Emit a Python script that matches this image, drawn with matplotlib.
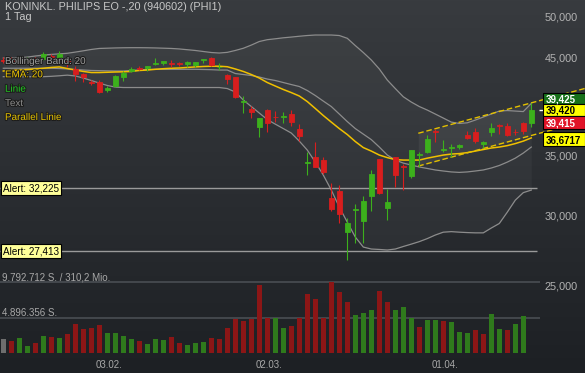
import numpy as np
import matplotlib
matplotlib.use("Agg")
import matplotlib.pyplot as plt
import matplotlib.transforms as mtransforms
import matplotlib.patheffects as pe
from matplotlib.patches import Rectangle

plt.rcParams['font.family'] = ['Liberation Sans', 'DejaVu Sans']

W, H = 585, 373

# Tageskerzen in EUR (15.01. - 20.04.)
eroeffnung = [44.85, 44.85, 44.68, 44.85, 45.03, 44.97, 45.31, 44.80, 44.68, 43.83,
              43.18, 42.39, 42.37, 41.52, 41.89, 42.83, 43.59, 43.89, 43.86, 44.37,
              44.48, 44.48, 44.45, 44.30, 44.18, 44.80, 45.03, 43.97, 43.10, 42.85,
              40.24, 39.47, 37.68, 39.39, 38.74, 38.71, 39.04, 37.52, 34.37, 34.93,
              34.64, 31.45, 32.01, 28.81, 30.50, 29.63, 31.60, 34.70, 30.62, 34.88,
              34.14, 33.27, 35.13, 35.39, 37.32, 35.54, 35.77, 35.80, 36.93, 37.22,
              36.10, 37.20, 37.89, 37.80, 37.27, 38.09, 38.06]
hoch = [45.09, 45.14, 45.14, 45.14, 45.20, 45.77, 45.49, 45.80, 45.03, 44.06,
        43.38, 42.61, 42.55, 41.95, 43.10, 43.50, 43.95, 44.06, 44.17, 44.99,
        44.74, 44.80, 44.53, 44.72, 44.62, 44.97, 45.17, 44.48, 43.21, 42.92,
        40.80, 39.77, 38.64, 39.49, 39.29, 39.22, 39.39, 37.97, 35.39, 36.28,
        34.93, 32.62, 32.48, 29.81, 30.91, 31.58, 33.76, 34.75, 32.15, 34.95,
        34.25, 35.59, 35.39, 36.99, 37.49, 36.44, 36.13, 36.14, 37.32, 37.58,
        36.37, 38.06, 38.04, 38.06, 37.56, 38.22, 40.13]
tief = [44.45, 44.45, 44.57, 44.68, 44.74, 44.85, 44.91, 44.68, 44.04, 42.50,
        42.39, 42.01, 41.20, 41.31, 41.79, 42.48, 43.44, 43.61, 43.59, 44.18,
        44.25, 43.97, 44.10, 44.04, 43.97, 44.48, 44.16, 43.66, 42.17, 40.68,
        39.06, 38.56, 36.77, 37.25, 38.22, 38.06, 37.81, 36.41, 33.37, 34.03,
        33.40, 30.40, 29.43, 26.78, 27.98, 27.96, 30.38, 31.78, 29.68, 32.36,
        32.07, 33.05, 34.05, 35.24, 36.25, 35.33, 34.91, 35.63, 36.56, 36.15,
        35.70, 36.88, 37.03, 36.84, 36.93, 37.03, 37.75]
schluss = [44.74, 44.68, 44.91, 44.97, 44.91, 45.55, 45.09, 45.49, 44.29, 43.27,
           42.83, 42.22, 41.26, 41.74, 42.99, 43.38, 43.83, 43.78, 44.12, 44.44,
           44.68, 44.39, 44.33, 44.56, 44.59, 44.88, 44.21, 44.03, 42.66, 40.70,
           40.36, 39.19, 38.56, 38.14, 38.66, 38.79, 38.19, 36.84, 34.43, 34.07,
           33.57, 30.54, 30.14, 29.43, 30.58, 31.20, 33.40, 31.84, 31.11, 33.33,
           34.07, 35.54, 35.22, 36.53, 37.22, 35.61, 35.85, 35.99, 36.63, 36.37,
           36.31, 37.58, 37.81, 36.93, 37.20, 37.35, 39.42]
# Umsatz in Mio. Stueck (heute noch ohne Balken)
volumen = [1.89, 1.66, 2.02, 0.97, 1.33, 2.34, 2.16, 2.02, 2.62, 3.95,
           3.26, 3.40, 3.82, 2.76, 2.76, 2.34, 1.93, 1.61, 1.20, 1.93,
           1.79, 2.16, 1.38, 1.06, 1.38, 1.47, 2.11, 1.89, 3.40, 4.64,
           4.41, 4.64, 9.47, 4.78, 4.78, 3.40, 3.72, 4.78, 8.18, 7.49,
           4.83, 9.79, 8.50, 7.13, 5.33, 5.52, 6.02, 8.64, 7.13, 5.93,
           6.34, 4.87, 3.59, 4.55, 4.60, 4.46, 4.27, 2.85, 2.71, 3.22,
           2.67, 5.42, 3.26, 3.13, 3.95, 5.10]

# Indikatoren
boll_oben = [45.03, 45.03, 45.06, 45.14, 45.26, 45.37, 45.45, 45.51, 45.58, 45.72,
             45.87, 46.03, 46.15, 46.18, 46.21, 46.23, 46.24, 46.24, 46.23, 46.21,
             46.18, 46.15, 46.09, 46.00, 45.91, 45.79, 45.67, 45.61, 45.69, 45.91,
             46.17, 46.55, 46.98, 47.20, 47.31, 47.43, 47.52, 47.62, 47.71, 47.77,
             47.77, 47.77, 47.71, 47.37, 46.49, 45.67, 44.80, 43.78, 42.55, 41.63,
             40.76, 40.21, 39.75, 39.39, 38.99, 38.59, 38.19, 38.06, 38.12, 38.39,
             38.69, 38.99, 39.29, 39.34, 39.29, 39.24, 40.07]
boll_mitte = [43.86, 43.86, 43.86, 43.86, 43.86, 43.86, 43.86, 43.83, 43.78, 43.72,
              43.66, 43.61, 43.59, 43.57, 43.55, 43.55, 43.61, 43.66, 43.72, 43.74,
              43.74, 43.74, 43.74, 43.74, 43.74, 43.72, 43.70, 43.66, 43.66, 43.27,
              43.16, 43.05, 42.88, 42.66, 42.50, 42.28, 42.06, 41.85, 41.42, 40.89,
              40.31, 39.75, 38.99, 38.24, 37.56, 37.03, 36.51, 35.82, 35.09, 34.64,
              34.37, 34.20, 34.03, 33.90, 33.77, 33.68, 33.60, 33.56, 33.60, 33.68,
              33.77, 33.94, 34.16, 34.46, 34.81, 35.27, 35.82]
boll_unten = [42.92, 42.92, 42.92, 42.92, 42.92, 42.92, 42.96, 43.02, 43.09, 43.00,
              42.77, 42.50, 42.22, 41.96, 41.79, 41.74, 41.74, 41.74, 41.74, 41.74,
              41.74, 41.74, 41.74, 41.74, 41.74, 41.74, 41.74, 41.74, 41.63, 41.26,
              40.42, 39.75, 39.09, 38.44, 37.99, 37.56, 37.13, 36.37, 35.54, 34.46,
              33.33, 32.07, 30.69, 29.53, 28.42, 27.70, 27.56, 27.53, 27.49, 27.56,
              27.74, 27.91, 28.09, 28.31, 28.57, 28.78, 28.82, 28.78, 28.75, 28.73,
              28.73, 29.09, 29.43, 30.30, 31.25, 31.86, 32.07]
ema20 = [43.55, 43.61, 43.66, 43.72, 43.78, 43.86, 43.95, 44.01, 43.83, 43.66,
         43.50, 43.38, 43.38, 43.41, 43.44, 43.46, 43.50, 43.61, 43.66, 43.74,
         43.81, 43.86, 43.89, 43.95, 44.01, 44.06, 44.09, 44.09, 44.03, 43.78,
         43.50, 43.16, 42.77, 42.28, 41.90, 41.53, 41.20, 40.84, 40.26, 39.55,
         38.84, 38.19, 37.56, 36.99, 36.33, 35.77, 35.45, 35.09, 34.86, 34.68,
         34.64, 34.64, 34.64, 34.81, 34.95, 35.09, 35.18, 35.22, 35.31, 35.45,
         35.59, 35.73, 35.82, 35.95, 36.14, 36.37, 36.67]

# Parallelkanal (Kerzenindex, Kurs)
kanal_x = [51.875, 72.7]
kanal_oben = [37.11, 41.64]
kanal_unten = [34.11, 38.30]

alerts = [32.225, 27.413]
preis_ticks = [25, 30, 35, 45, 50]   # 40,000 liegt hinter den Kursmarken
datum_pos = [13, 33, 55]
datum_txt = ["03.02.", "02.03.", "01.04."]
vol_linien = [9.792712, 4.896356]
vol_texte = ["9.792.712 S. / 310,2 Mio.", "4.896.356 S."]
kurs_marken = ["39,425", "39,420", "39,415", "36,6717"]
legende = [("Bollinger Band: 20", "#9c9c9c"), ("EMA: 20", "#f0c800"),
           ("Linie", "#22cc22"), ("Text", "#8a8a8a"), ("Parallel Linie", "#e6c200")]

GRUEN = "#3cb01c"
ROT = "#d81e1e"

fig = plt.figure(figsize=(W / 100, H / 100), dpi=100)
pix = mtransforms.Affine2D().scale(1 / W, -1 / H).translate(0, 1) + fig.transFigure

# Hintergrund mit Verlauf
bg = fig.add_axes([0, 0, 1, 1])
t = np.linspace(0, 1, 256)[:, None]
verlauf = np.array([56, 59, 63]) / 255 * (1 - t) + np.array([29, 32, 36]) / 255 * t
bg.imshow(verlauf[:, None, :], aspect='auto', extent=[0, 1, 0, 1], origin='upper')
bg.axis('off')

x_links, x_rechts = -3.3 / 8, (W - 3.3) / 8

ax = fig.add_axes([0, 0, 1, 1])
ax.set_facecolor('none')
ax.set_yscale('log')
ax.set_xlim(x_links, x_rechts)
ax.set_ylim(20.04, 52.27)
ax.axis('off')

vax = fig.add_axes([0, 20 / H, 1, 90 / H])
vax.set_facecolor('none')
vax.set_xlim(x_links, x_rechts)
vax.set_ylim(0, 90 / 7.22)
vax.axis('off')

x = np.arange(len(schluss))
O = np.array(eroeffnung)
C = np.array(schluss)

# Bollinger Baender und EMA
ax.fill_between(x, boll_unten, boll_oben, color='white', alpha=0.035, lw=0, zorder=1)
for band in (boll_oben, boll_mitte, boll_unten):
    ax.plot(x, band, color='#8c8c8c', lw=0.9, zorder=2)
ax.plot(x, ema20, color='#f0c000', lw=1.1, zorder=3)

# Parallelkanal
def auf_linie(xs, ys, xq):
    return np.exp(np.interp(xq, xs, np.log(ys)))

kx = np.array([kanal_x[0], x[-1] - 0.1])
ax.fill_between(kx, auf_linie(kanal_x, kanal_unten, kx), auf_linie(kanal_x, kanal_oben, kx),
                color='white', alpha=0.05, lw=0, zorder=1)
for kanal in (kanal_oben, kanal_unten):
    ax.plot(kanal_x, kanal, color='#e3c000', lw=1.0, ls=(0, (4, 2)), zorder=4)

# Alarmlinien
ty = mtransforms.blended_transform_factory(pix, ax.transData)
for a in alerts:
    ax.hlines(a, x_links, (537 - 3.3) / 8, color='#9a9a9a', lw=1.0, zorder=2)
    ax.text(2.7, a, "Alert: " + f"{a:.3f}".replace('.', ','), transform=ty,
            ha='left', va='center', fontsize=7.1, color='black', zorder=9,
            bbox=dict(boxstyle='square,pad=0.22', fc='#ffff99', ec='black', lw=0.8))

# Kerzen
farbe = np.where(C >= O, GRUEN, ROT)
ax.vlines(x, tief, hoch, colors=farbe, lw=0.8, zorder=5)
ax.bar(x, np.abs(C - O), bottom=np.minimum(O, C), width=0.62, color=farbe,
       edgecolor=farbe, lw=0.6, zorder=6)
ax.hlines(C[-1], (539.3 - 3.3) / 8, (543 - 3.3) / 8, color='white', lw=1.0, zorder=7)

# Umsatz, Farbe nach Schlusskurs zum Vortag
n = len(volumen)
vfarben = ['#6e6e6e'] + ['#2f7a1c' if c1 >= c0 else '#8c1616'
                         for c0, c1 in zip(schluss[:n - 1], schluss[1:n])]
for v, txt in zip(vol_linien, vol_texte):
    vax.hlines(v, x_links, (540 - 3.3) / 8, color='#4a4e53', lw=1.2, zorder=1)
    vax.text(2, v, txt, transform=mtransforms.blended_transform_factory(pix, vax.transData),
             ha='left', va='bottom', fontsize=7, color='#a8a8a8')
vax.bar(x[:n], volumen, width=0.62, color=vfarben, zorder=2)

# Achsenbeschriftung
for p in preis_ticks:
    ax.text(578, p, f"{p:.3f}".replace('.', ','), transform=ty, ha='right', va='center',
            fontsize=7.8, color='#b4b4b4', zorder=3)
tx = mtransforms.blended_transform_factory(ax.transData, pix)
for k, d in zip(datum_pos, datum_txt):
    ax.text(k + 0.2, 368.3, d, transform=tx, ha='center', va='baseline',
            fontsize=7, color='#a8a8a8')

# Kursmarken rechts
boxen = [(92.7, 11.6, '#17711a', 'white'), (104.3, 11.7, '#ffff00', 'black'),
         (116.0, 12.5, '#e01428', 'white'), (132.3, 13.4, '#ffff00', 'black')]
for txt, (y0, h, fc, tc) in zip(kurs_marken, boxen):
    fig.add_artist(Rectangle((543, y0), 42, h, transform=pix, fc=fc, ec='black',
                             lw=0.8, zorder=10))
    fig.text(545.5, y0 + h - 2.2, txt, transform=pix, ha='left', va='baseline',
             fontsize=7.0, fontweight='bold', color=tc, zorder=11)

# Titel und Legende
fig.text(5, 10, "KONINKL. PHILIPS EO -,20 (940602) (PHI1)", transform=pix,
         va='baseline', fontsize=7.8, color='#c8c8c8')
fig.text(5, 19.5, "1 Tag", transform=pix, va='baseline', fontsize=7.8, color='#c8c8c8')
for (txt, col), yb in zip(legende, [64, 77.3, 91.7, 106, 120]):
    fig.text(5, yb, txt, transform=pix, va='baseline', fontsize=7.1, color=col,
             path_effects=[pe.withStroke(linewidth=1.5, foreground='#1c1c1c')])

fig.savefig("out.png", dpi=100)
